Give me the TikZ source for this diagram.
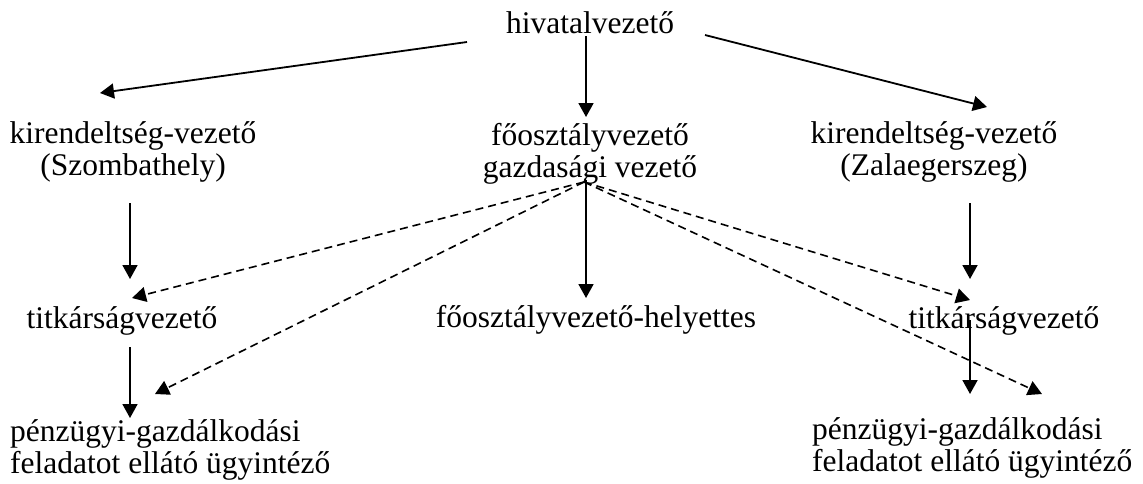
\documentclass[tikz,border=0pt]{standalone}
\usepackage{fontspec}
\setmainfont{Liberation Serif}
\usetikzlibrary{arrows.meta}
\newcommand\twoC[2]{\vtop{\baselineskip=32pt\lineskiplimit=-100pt\halign{\hfil##\hfil\cr#1\cr#2\cr}}}
\newcommand\twoL[2]{\vtop{\baselineskip=32pt\lineskiplimit=-100pt\halign{##\hfil\cr#1\cr#2\cr}}}
\tikzset{
  lbl/.style={inner sep=0pt, anchor=base, font=\fontsize{31.5pt}{32pt}\selectfont},
  lbll/.style={lbl, anchor=base west},
  solidarr/.style={line width=1.8pt, -{Triangle[length=14pt,width=15pt]}},
  dasharr/.style={line width=1.6pt, dash pattern=on 8pt off 5pt, -{Triangle[length=14pt,width=15pt]}}
}
\begin{document}
\begin{tikzpicture}[x=1pt,y=-1pt]
\useasboundingbox[fill=white] (0,0) rectangle (1143,483);
% nodes
\node[lbl] (hv) at (590,33) {hivatalvezető};
\node[lbl] (ksz) at (133,143) {\twoC{kirendeltség-vezető}{(Szombathely)}};
\node[lbl] (fo) at (590,145) {\twoC{főosztályvezető}{gazdasági vezető}};
\node[lbl] (kz) at (934,143) {\twoC{kirendeltség-vezető}{(Zalaegerszeg)}};
\node[lbl] (tl) at (122,328) {titkárságvezető};
\node[lbl] (fh) at (596,327) {főosztályvezető-helyettes};
\node[lbl] (tr) at (1004,328) {titkárságvezető};
\node[lbll] (pl) at (10,441) {\twoL{pénzügyi-gazdálkodási}{feladatot ellátó ügyintéző}};
\node[lbll] (pr) at (812,439) {\twoL{pénzügyi-gazdálkodási}{feladatot ellátó ügyintéző}};
% connector end points
\coordinate (hvL) at (467,42);
\coordinate (hvB) at (586,36);
\coordinate (hvR) at (705,35);
\coordinate (kszT) at (100,93);
\coordinate (foT) at (586,117);
\coordinate (kzT) at (987,107);
\coordinate (kszB) at (130,203);
\coordinate (tlT) at (130,279);
\coordinate (foB) at (586,180);
\coordinate (fhT) at (586,298);
\coordinate (kzB) at (970,203);
\coordinate (trT) at (970,279);
\coordinate (tlB) at (130,347);
\coordinate (plT) at (130,418);
\coordinate (trB) at (970,320);
\coordinate (prT) at (970,394);
\coordinate (foD) at (584,182);
\coordinate (tlD) at (132,298);
\coordinate (plD) at (155,394);
\coordinate (trD) at (970,300);
\coordinate (prD) at (1042,394);
% solid arrows
\draw[solidarr] (hvL) -- (kszT);
\draw[solidarr] (hvB) -- (foT);
\draw[solidarr] (hvR) -- (kzT);
\draw[solidarr] (kszB) -- (tlT);
\draw[solidarr] (foB) -- (fhT);
\draw[solidarr] (kzB) -- (trT);
\draw[solidarr] (tlB) -- (plT);
\draw[solidarr] (trB) -- (prT);
% dashed arrows
\draw[dasharr] (foD) -- (tlD);
\draw[dasharr] (foD) -- (plD);
\draw[dasharr] (foD) -- (trD);
\draw[dasharr] (foD) -- (prD);
\end{tikzpicture}
\end{document}
